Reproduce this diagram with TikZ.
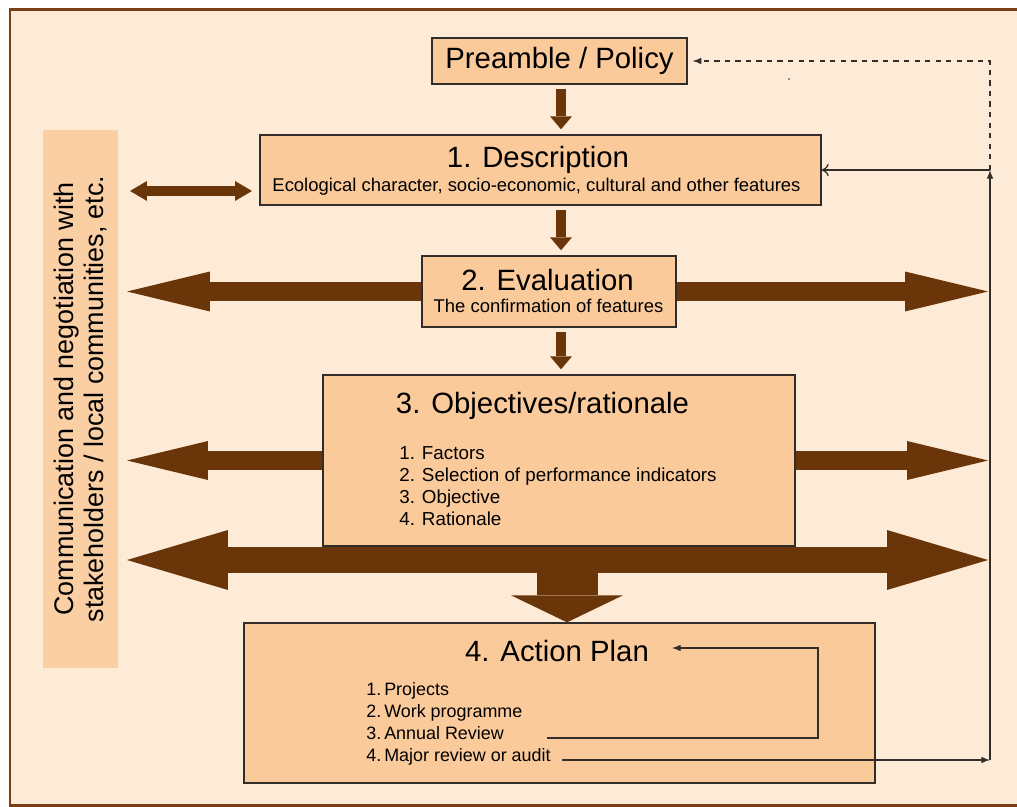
\documentclass[tikz,border=0pt]{standalone}
\usepackage{fontspec}
\setmainfont{Liberation Sans}
\usepackage{tikz}
\usetikzlibrary{arrows,arrows.meta,positioning,backgrounds}
\usepackage{xcolor}

\definecolor{pagepeach}{RGB}{253,235,216}
\definecolor{boxpeach}{RGB}{250,202,155}
\definecolor{barpeach}{RGB}{250,207,163}
\definecolor{arrowbrown}{RGB}{106,54,9}
\definecolor{framebrown}{RGB}{122,62,22}
\definecolor{lineink}{RGB}{50,45,40}

\newcommand{\stagefont}{\fontsize{16.7}{20}\selectfont}
\newcommand{\notefont}{\fontsize{10.5}{12.5}\selectfont}
\newcommand{\itemfont}{\fontsize{10.7}{12.5}\selectfont}
\newcommand{\planfont}{\fontsize{10.2}{12.5}\selectfont}
\newcommand{\sidefont}{\fontsize{15.3}{17.6}\selectfont}

\begin{document}
\begin{tikzpicture}[x=0.02cm, y=-0.02cm,
    stagebox/.style={draw=lineink, line width=0.8pt, fill=boxpeach, inner sep=0pt},
    stagetitle/.style={font=\stagefont, inner sep=0pt, anchor=base},
    stagenote/.style={font=\notefont, inner sep=0pt, anchor=base},
    itemtext/.style={font=\itemfont, inner sep=0pt, anchor=base west},
    thinline/.style={draw=lineink, line width=0.7pt},
    brownarrow/.style={draw=arrowbrown, line width=#1}]

    \useasboundingbox (0,0) rectangle (1017,807);

    % page and frame
    \begin{scope}[on background layer]
        \fill[white] (0,0) rectangle (1017,807);
        \fill[pagepeach] (10,10) rectangle (1017,805);
        \draw[framebrown, line width=0.06cm] (1017,10) -- (10,10) -- (10,805) -- (1017,805);
    \end{scope}

    % stages
    \node[stagebox, font=\stagefont, minimum width=5.1cm, minimum height=0.92cm] (pre) at (559.5,61) {Preamble / Policy};

    \node[stagebox, minimum width=11.22cm, minimum height=1.4cm] (desc) at (540.5,170) {};
    \node[stagetitle] (desctitle) at (538,168) {1. Description};
    \node[stagenote] (descnote) at (536.5,192) {Ecological character, socio-economic, cultural and other features};

    \node[stagebox, minimum width=5.08cm, minimum height=1.42cm] (eval) at (549,291.5) {};
    \node[stagetitle] (evaltitle) at (547.5,290.5) {2. Evaluation};
    \node[stagenote] (evalnote) at (548.5,313) {The confirmation of features};

    \node[stagebox, minimum width=9.44cm, minimum height=3.42cm] (obj) at (559,460.5) {};
    \node[stagetitle] (objtitle) at (542.5,413) {3. Objectives/rationale};
    \foreach \i/\t in {1/Factors, 2/Selection of performance indicators, 3/Objective, 4/Rationale}
        \node[itemtext] (obj\i) at (399,{459+22*(\i-1)}) {\i. \t};

    \node[stagebox, minimum width=12.62cm, minimum height=3.2cm] (plan) at (559.5,703) {};
    \node[stagetitle] (plantitle) at (557,661.5) {4. Action Plan};
    \foreach \i/\t in {1/Projects, 2/Work programme, 3/Annual Review, 4/Major review or audit}
        \node[itemtext, font=\planfont] (plan\i) at (366,{695+22.3*(\i-1)}) {\i.\,\t};

    \node[fill=barpeach, rotate=90, minimum width=10.76cm, minimum height=1.5cm, inner sep=0pt,
          align=center, font=\sidefont] (comm) at (80.5,399)
          {Communication and negotiation with\\stakeholders / local communities, etc.};

    % helper points
    \coordinate (spine) at (561,0);
    \coordinate (leftedge) at (127,0);
    \coordinate (rightedge) at (988,0);
    \coordinate (commend) at (130,191);
    \coordinate (descend) at (252,191);
    \coordinate (bigleft) at (127,560);
    \coordinate (bigright) at (988,560);
    \coordinate (bigmid) at (567,560);
    \coordinate (righttop) at (990,170);
    \coordinate (rightbot) at (990,760);
    \coordinate (auditstart) at (562,760);
    \coordinate (reviewstart) at (547,738);
    \coordinate (loopcorner) at (818,738);
    \coordinate (reviewend) at (672,648);

    % brown arrows
    \begin{scope}[on background layer]
        \foreach \a/\b in {pre/desc, desc/eval, eval/obj}
            \draw[brownarrow=0.2cm, -{Triangle[length=0.26cm,width=0.44cm,line width=0pt]},
                  shorten <=0.08cm, shorten >=0.1cm] (spine |- \a.south) -- (spine |- \b.north);

        \draw[brownarrow=0.2cm, {Triangle[length=0.34cm,width=0.4cm,line width=0pt]}-{Triangle[length=0.34cm,width=0.4cm,line width=0pt]}] (commend) -- (descend);

        \foreach \s/\e in {west/leftedge, east/rightedge} {
            \draw[brownarrow=0.4cm, -{Triangle[length=1.66cm,width=0.8cm,line width=0pt]}] (eval.\s) -- (\e |- eval.\s);
            \draw[brownarrow=0.38cm, -{Triangle[length=1.62cm,width=0.78cm,line width=0pt]}] (obj.\s) -- (\e |- obj.\s);
        }

        \draw[brownarrow=0.52cm, {Triangle[length=2.02cm,width=1.2cm,line width=0pt]}-{Triangle[length=2.02cm,width=1.2cm,line width=0pt]}] (bigleft) -- (bigright);
        \draw[brownarrow=1.22cm, -{Triangle[length=0.54cm,width=2.24cm,line width=0pt]}] (bigmid) -- (bigmid |- plan.north);
    \end{scope}

    % feedback lines
    \draw[thinline, -latex] (auditstart) -- (rightbot);
    \draw[thinline, -latex] (rightbot) -- (righttop);
    \draw[thinline, -{To[length=4pt,width=7pt]}] (righttop) -- (desc.east);
    \draw[thinline, dashed, -latex, shorten >=0.1cm] (righttop) |- (pre.east);
    \draw[thinline, -latex] (reviewstart) -- (loopcorner) |- (reviewend);

    \fill[lineink] (789,79) circle (0.5pt);
\end{tikzpicture}
\end{document}
